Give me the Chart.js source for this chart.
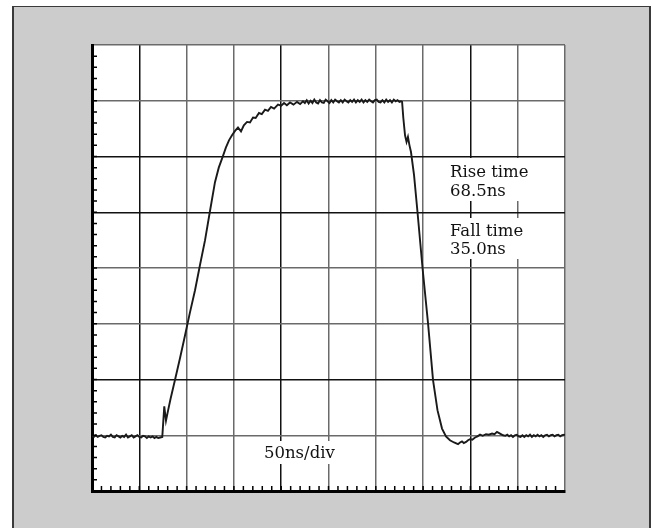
<!DOCTYPE html>
<html>
<head>
<meta charset="utf-8">
<script src="https://cdn.jsdelivr.net/npm/chart.js@4/dist/chart.umd.min.js"></script>
<style>
  html, body { margin: 0; padding: 0; background: #ffffff; }
  #frame { position: absolute; left: 12px; top: 6px; width: 635px; height: 530px;
           background: #cccccc; border-left: 2px solid #3a3a3a; border-top: 1px solid #3a3a3a; border-right: 2px solid #3a3a3a; }
  #c { position: absolute; left: 0; top: 0; }
</style>
</head>
<body>
<div id="frame"></div>
<canvas id="c" width="653" height="528"></canvas>
<script>
// Time axis: 50 ns/div, 10 divisions; vertical axis: 8 divisions
const xTicksNs = [0, 50, 100, 150, 200, 250, 300, 350, 400, 450, 500];
const yTicksDiv = [0, 1, 2, 3, 4, 5, 6, 7, 8];

// Trace: time (ns) and amplitude (divisions from bottom)
const timeNs = [
  0,2,4,6,8,10,12,14,16,18,20,22,24,26,28,30,32,34,36,38,40,42,44,46,48,50,52,54,56,58,60,62,64,66,68,70,72,
  74.3,76.4,78.2,80.5,83,87.7,93,98.3,103.5,108.9,114,119.5,124.5,130,134,138.5,141.5,144.8,148,151.2,154.3,157.5,160.5,163.9,167,170.2,173,176.5,179.5,182.9,186,189.2,192.5,196.6,200,203,206,209.3,213,216.7,220,223,
  225,227,229,231,233,235,237,239,241,243,245,247,249,251,253,255,257,259,261,263,265,267,269,271,273,275,277,279,281,283,285,287,289,291,293,295,297,299,301,303,305,307,309,311,313,315,317,319,321,323,325,326.5,
  327.8,329.1,330.9,332.5,334,335.6,337.2,340.4,344.1,349.4,355.2,360.5,365.2,370,374.2,378.4,382.7,386.9,389,391.1,393,395.4,397.5,399.6,402,404.9,407.5,410.2,413,416.5,419.5,422.9,425.5,428.1,431.3,434.5,
  437,439,441,443,445,447,449,451,453,455,457,459,461,463,465,467,469,471,473,475,477,479,481,483,485,487,489,491,493,495,497,499,500
];
const signalDiv = [
  0.99,0.97,1.00,0.97,0.99,1.00,0.97,0.96,0.99,0.98,1.01,0.97,0.96,1.00,0.98,0.96,0.99,0.97,1.01,0.96,0.98,1.00,0.96,0.98,1.00,0.97,0.96,0.99,0.98,0.95,0.98,0.96,0.98,0.95,0.97,0.95,0.96,
  0.97,1.52,1.26,1.45,1.65,1.99,2.38,2.79,3.20,3.60,4.04,4.50,5.00,5.54,5.80,6.01,6.16,6.29,6.38,6.46,6.52,6.45,6.56,6.62,6.61,6.70,6.69,6.78,6.76,6.84,6.82,6.89,6.86,6.93,6.91,6.96,6.92,6.97,6.93,6.98,6.94,6.99,
  6.96,7.01,6.95,7.00,6.96,7.02,6.97,6.95,7.01,6.97,6.96,7.02,6.99,6.96,7.01,6.97,7.02,6.99,6.97,7.01,6.97,7.02,6.99,6.97,7.01,6.98,7.02,6.97,7.01,6.98,7.02,6.97,7.01,6.98,7.02,6.99,6.97,7.01,7.02,6.98,6.97,7.01,6.97,7.02,6.98,7.01,6.97,7.02,6.99,7.01,6.98,6.99,
  6.98,6.69,6.38,6.26,6.35,6.20,6.08,5.67,5.00,4.00,3.01,1.99,1.45,1.12,0.98,0.91,0.87,0.84,0.87,0.89,0.86,0.88,0.91,0.93,0.92,0.96,0.98,1.01,0.99,1.02,1.01,1.03,1.02,1.06,1.03,1.00,
  0.99,1.01,0.98,1.00,0.97,1.00,1.01,0.98,0.97,1.00,0.97,1.00,0.98,1.01,0.97,1.00,0.98,1.01,0.98,1.00,0.97,1.00,1.01,0.98,1.00,1.01,0.98,1.00,1.01,0.98,1.00,1.01,1.00
];

// Annotation texts
const riseLabel = ["Rise time", "68.5ns"];
const fallLabel = ["Fall time", "35.0ns"];
const scaleLabel = "50ns/div";

const darkVertical = [1, 4, 8];
const darkHorizontal = [2, 5, 6];

const bgPlugin = {
  id: 'bg',
  beforeDraw(chart) {
    const {ctx, chartArea: a} = chart;
    ctx.save();
    ctx.fillStyle = '#ffffff';
    ctx.fillRect(a.left, a.top, a.right - a.left, a.bottom - a.top);
    ctx.restore();
  }
};

const minorPlugin = {
  id: 'minor',
  afterDraw(chart) {
    const {ctx, chartArea: a, scales: {x, y}} = chart;
    ctx.save();
    ctx.strokeStyle = '#000';
    ctx.lineWidth = 1.5;
    ctx.beginPath();
    for (let t = 10; t < 500; t += 10) {
      const px = x.getPixelForValue(t);
      ctx.moveTo(px, a.bottom);
      ctx.lineTo(px, a.bottom - 5);
    }
    for (let v = 0.2; v < 8; v += 0.2) {
      const py = y.getPixelForValue(v);
      ctx.moveTo(a.left, py);
      ctx.lineTo(a.left + 5, py);
    }
    ctx.stroke();

    // annotation boxes
    ctx.font = '16.5px "DejaVu Serif"';
    ctx.textBaseline = 'alphabetic';
    function box(lines, x0, base, lh, padL, padR, top, bottom) {
      let w = 0;
      lines.forEach(s => { w = Math.max(w, ctx.measureText(s).width); });
      ctx.fillStyle = '#ffffff';
      ctx.fillRect(x0 - padL, top, w + padL + padR, bottom - top);
      ctx.fillStyle = '#111';
      lines.forEach((s, i) => ctx.fillText(s, x0, base + i * lh));
    }
    box(riseLabel, 450, 177, 19, 4, 5, 158, 201);
    box(fallLabel, 450, 236, 18, 4, 5, 218, 259);
    box([scaleLabel], 264, 458, 18, 5, 5, 441, 464);
    ctx.restore();
  }
};

new Chart(document.getElementById('c'), {
  type: 'line',
  data: {
    datasets: [{
      data: timeNs.map((t, i) => ({x: t, y: signalDiv[i]})),
      borderColor: '#1a1a1a',
      borderWidth: 1.9,
      pointRadius: 0,
      tension: 0,
      fill: false
    }]
  },
  options: {
    responsive: false,
    animation: false,
    devicePixelRatio: 1,
    layout: { padding: { left: 92, right: 88, top: 45, bottom: 37 } },
    plugins: { legend: { display: false }, tooltip: { enabled: false } },
    scales: {
      x: {
        type: 'linear', min: 0, max: 500,
        afterBuildTicks(s) { s.ticks = xTicksNs.map(v => ({value: v})); },
        ticks: { display: false },
        grid: {
          drawTicks: false,
          lineWidth: 1.5,
          color: ctx => darkVertical.includes(ctx.index) ? '#111111' : '#6a6a6a'
        },
        border: { display: true, color: '#000', width: 3 }
      },
      y: {
        type: 'linear', min: 0, max: 8,
        afterBuildTicks(s) { s.ticks = yTicksDiv.map(v => ({value: v})); },
        ticks: { display: false },
        grid: {
          drawTicks: false,
          lineWidth: 1.5,
          color: ctx => darkHorizontal.includes(ctx.index) ? '#111111' : '#6a6a6a'
        },
        border: { display: true, color: '#000', width: 3 }
      }
    }
  },
  plugins: [bgPlugin, minorPlugin]
});
</script>
</body>
</html>
